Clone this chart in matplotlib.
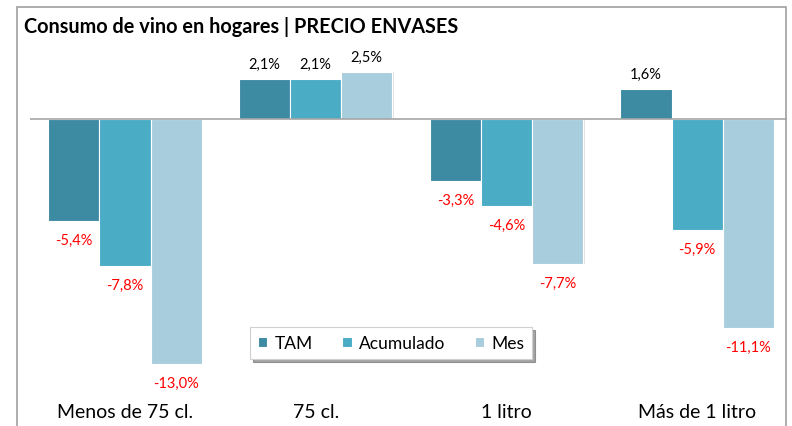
import numpy as np
import matplotlib.pyplot as plt
from matplotlib.patches import Rectangle

# data
categorias = ["Menos de 75 cl.", "75 cl.", "1 litro", "Más de 1 litro"]
series = ["TAM", "Acumulado", "Mes"]
tam = [-5.4, 2.1, -3.3, 1.6]
acumulado = [-7.8, 2.1, -4.6, -5.9]
mes = [-13.0, 2.5, -7.7, -11.1]
colores = ["#3D8AA3", "#4BACC6", "#A8CEDD"]

plt.rcParams['font.family'] = ['Lato', 'DejaVu Sans']

W, H = 792, 427
fig = plt.figure(figsize=(W / 100, H / 100), dpi=100, facecolor='white')

# pixel geometry of the plot area
px_left, px_right = 30, 787
px_top, px_bottom = 45, 427
cx0, step = 125, 190.7
y0, ppu = 120, 18.85

ax = fig.add_axes([px_left / W, 1 - px_bottom / H,
                   (px_right - px_left) / W, (px_bottom - px_top) / H])
ax.set_xlim(-(cx0 - px_left) / step, 3 + (px_right - (cx0 + 3 * step)) / step)
ax.set_ylim(-(px_bottom - y0) / ppu, (y0 - px_top) / ppu)
ax.axis('off')

x = np.arange(len(categorias))
w = 0.268
valores = [tam, acumulado, mes]
for i, (vals, col, nom) in enumerate(zip(valores, colores, series)):
    pos = x + (i - 1) * w
    # soft shadow
    ax.bar(pos + 0.008, vals, w, bottom=0, color='#e0e0e0', zorder=1,
           linewidth=0)
    ax.bar(pos, vals, w, color=col, edgecolor='white', linewidth=0.8,
           zorder=2, label=nom)
    for xp, v in zip(pos, vals):
        txt = f"{v:.1f}%".replace('.', ',')
        if v >= 0:
            ax.text(xp, v + 0.8, txt, ha='center', va='center',
                    fontsize=10.5, color='black')
        else:
            ax.text(xp, v - 1.0, txt, ha='center', va='center',
                    fontsize=10.5, color='#FF0000')

ax.axhline(0, color='#a6a6a6', lw=1.2, zorder=3)

for xi, c in zip(x, categorias):
    ax.text(xi, -(413 - y0) / ppu, c, ha='center', va='center',
            fontsize=14, color='black')

# outer frame
fig.patches.append(Rectangle((17 / W, -0.1), (786 - 17) / W, 1.1 - 8 / H,
                             transform=fig.transFigure, fill=False,
                             edgecolor='#a0a0a0', lw=1.2))

fig.text(24 / W, 1 - 27 / H, "Consumo de vino en hogares | PRECIO ENVASES",
         fontsize=14.3, fontweight='bold', ha='left', va='center')

leg = fig.legend(loc='center', bbox_to_anchor=(391 / W, 1 - 344 / H),
                 ncol=3, fontsize=12.5, frameon=True, fancybox=False,
                 shadow=True, handlelength=0.55, handleheight=0.55,
                 columnspacing=1.7, handletextpad=0.4,
                 borderpad=0.45, borderaxespad=0, edgecolor='#d0d0d0')
leg.get_frame().set_linewidth(0.8)

fig.savefig('out.png', dpi=100, facecolor='white')
